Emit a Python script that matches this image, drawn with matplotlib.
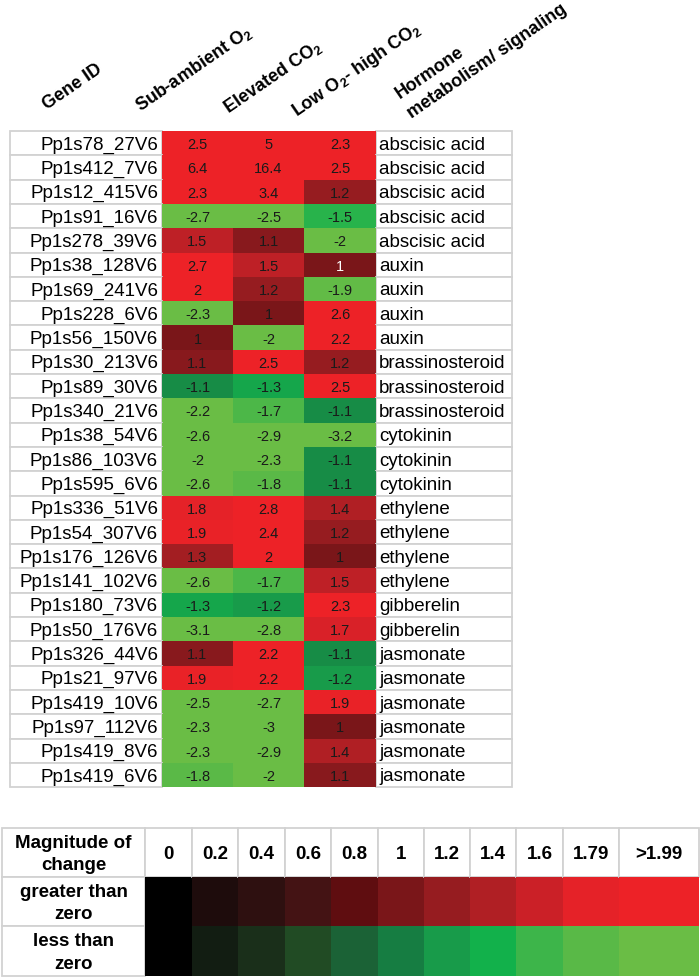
import numpy as np
import matplotlib
matplotlib.use("Agg")
import matplotlib.pyplot as plt
from matplotlib.patches import Rectangle
from matplotlib.colors import to_rgb

plt.rcParams["font.family"] = ["Liberation Sans", "DejaVu Sans"]
plt.rcParams["mathtext.fontset"] = "custom"
plt.rcParams["mathtext.rm"] = "Liberation Sans:bold"
plt.rcParams["mathtext.bf"] = "Liberation Sans:bold"
plt.rcParams["mathtext.it"] = "Liberation Sans:bold:italic"

# ---- data -------------------------------------------------------------------
genes = ["Pp1s78_27V6", "Pp1s412_7V6", "Pp1s12_415V6", "Pp1s91_16V6", "Pp1s278_39V6",
         "Pp1s38_128V6", "Pp1s69_241V6", "Pp1s228_6V6", "Pp1s56_150V6", "Pp1s30_213V6",
         "Pp1s89_30V6", "Pp1s340_21V6", "Pp1s38_54V6", "Pp1s86_103V6", "Pp1s595_6V6",
         "Pp1s336_51V6", "Pp1s54_307V6", "Pp1s176_126V6", "Pp1s141_102V6", "Pp1s180_73V6",
         "Pp1s50_176V6", "Pp1s326_44V6", "Pp1s21_97V6", "Pp1s419_10V6", "Pp1s97_112V6",
         "Pp1s419_8V6", "Pp1s419_6V6"]
sub_o2 = [2.5, 6.4, 2.3, -2.7, 1.5, 2.7, 2, -2.3, 1, 1.1, -1.1, -2.2, -2.6, -2, -2.6,
          1.8, 1.9, 1.3, -2.6, -1.3, -3.1, 1.1, 1.9, -2.5, -2.3, -2.3, -1.8]
elev_co2 = [5, 16.4, 3.4, -2.5, 1.1, 1.5, 1.2, 1, -2, 2.5, -1.3, -1.7, -2.9, -2.3, -1.8,
            2.8, 2.4, 2, -1.7, -1.2, -2.8, 2.2, 2.2, -2.7, -3, -2.9, -2]
low_o2_high_co2 = [2.3, 2.5, 1.2, -1.5, -2, 1, -1.9, 2.6, 2.2, 1.2, 2.5, -1.1, -3.2, -1.1, -1.1,
                   1.4, 1.2, 1, 1.5, 2.3, 1.7, -1.1, -1.2, 1.9, 1, 1.4, 1.1]
hormone = ["abscisic acid"] * 5 + ["auxin"] * 4 + ["brassinosteroid"] * 3 + ["cytokinin"] * 3 \
    + ["ethylene"] * 4 + ["gibberelin"] * 2 + ["jasmonate"] * 6
white_text = [(5, 2)]  # cell (row, col) printed in white

headers = ["Gene ID", r"Sub-ambient O$_2$", r"Elevated CO$_2$",
           r"Low O$_2$- high CO$_2$", "Hormone", "metabolism/ signaling"]

scale_labels = ["0", "0.2", "0.4", "0.6", "0.8", "1", "1.2", "1.4", "1.6", "1.79", ">1.99"]
scale_stops = [0, 0.2, 0.4, 0.6, 0.8, 1.0, 1.2, 1.4, 1.6, 1.79, 1.99]
pos_colors = ["#000000", "#1E0C0C", "#2E1010", "#441314", "#5F0D10", "#7A1619",
              "#961C20", "#B01F24", "#CB2027", "#E52228", "#ED2227"]
neg_colors = ["#000000", "#121D12", "#1A2F1A", "#214B24", "#1B6236", "#167D42",
              "#189B4A", "#12B14B", "#3DB54A", "#59B947", "#6ABD45"]

# ---- layout (pixels) ---------------------------------------------------------
W, H = 700, 979
col_edges = [10, 162, 233, 304, 376, 512]
row_top, row_h = 132, 24.3
leg_edges = [2, 145, 192, 238, 285, 331, 378, 424, 470, 516, 563, 619, 699]
leg_rows = [829, 878, 927, 977]
GRID = "#D2D2D2"


def cell_color(v):
    m = min(abs(v), scale_stops[-1])
    cols = np.array([to_rgb(c) for c in (pos_colors if v > 0 else neg_colors)])
    return tuple(np.interp(m, scale_stops, cols[:, k]) for k in range(3))


fig = plt.figure(figsize=(W / 100, H / 100), dpi=100)
ax = fig.add_axes([0, 0, 1, 1])
ax.set_xlim(0, W); ax.set_ylim(H, 0); ax.axis("off")

# ---- header ------------------------------------------------------------------
head_anchor = [(47, 110), (140, 112), (228, 114), (297, 117), (400, 99), (412, 119)]
for (x, y), txt in zip(head_anchor, headers):
    ax.text(x, y, txt, rotation=34.5, rotation_mode="anchor", ha="left", va="baseline",
            fontsize=13, fontweight="bold")

# ---- table -------------------------------------------------------------------
series = [sub_o2, elev_co2, low_o2_high_co2]
for i, g in enumerate(genes):
    y0 = row_top + i * row_h
    yc = y0 + row_h / 2
    ax.add_patch(Rectangle((col_edges[0], y0), col_edges[1] - col_edges[0], row_h,
                           fc="white", ec=GRID, lw=1.3))
    ax.add_patch(Rectangle((col_edges[4], y0), col_edges[5] - col_edges[4], row_h,
                           fc="white", ec=GRID, lw=1.3))
    ax.text(col_edges[1] - 4, yc + 1, g, ha="right", va="center", fontsize=13.5)
    ax.text(col_edges[4] + 3, yc + 1, hormone[i], ha="left", va="center", fontsize=13.5)
    for j, s in enumerate(series):
        v = s[i]
        ax.add_patch(Rectangle((col_edges[j + 1], y0), col_edges[j + 2] - col_edges[j + 1],
                               row_h, fc=cell_color(v), ec="none"))
        tc = "white" if (i, j) in white_text else "#1a1a1a"
        ax.text((col_edges[j + 1] + col_edges[j + 2]) / 2, yc + 1, f"{v:g}",
                ha="center", va="center", fontsize=10.5, color=tc)

# ---- colour key --------------------------------------------------------------
row_labels = ["Magnitude of\nchange", "greater than\nzero", "less than\nzero"]
for r in range(3):
    y0, y1 = leg_rows[r], leg_rows[r + 1]
    ax.add_patch(Rectangle((leg_edges[0], y0), leg_edges[1] - leg_edges[0], y1 - y0,
                           fc="white", ec=GRID, lw=1.3))
    ax.text((leg_edges[0] + leg_edges[1]) / 2, (y0 + y1) / 2 + 1, row_labels[r],
            ha="center", va="center", fontsize=13.5, fontweight="bold", linespacing=1.4)

for k, lab in enumerate(scale_labels):
    x0, x1 = leg_edges[k + 1], leg_edges[k + 2]
    ax.add_patch(Rectangle((x0, leg_rows[0]), x1 - x0, leg_rows[1] - leg_rows[0],
                           fc="white", ec=GRID, lw=1.3))
    ax.text((x0 + x1) / 2, (leg_rows[0] + leg_rows[1]) / 2 + 1, lab, ha="center",
            va="center", fontsize=13.5, fontweight="bold")
    if k == 0:
        ax.add_patch(Rectangle((x0, leg_rows[1]), x1 - x0, leg_rows[3] - leg_rows[1],
                               fc=pos_colors[0], ec="none"))
    else:
        ax.add_patch(Rectangle((x0, leg_rows[1]), x1 - x0, leg_rows[2] - leg_rows[1],
                               fc=pos_colors[k], ec="none"))
        ax.add_patch(Rectangle((x0, leg_rows[2]), x1 - x0, leg_rows[3] - leg_rows[2],
                               fc=neg_colors[k], ec="none"))

fig.savefig("out.png", dpi=100)
